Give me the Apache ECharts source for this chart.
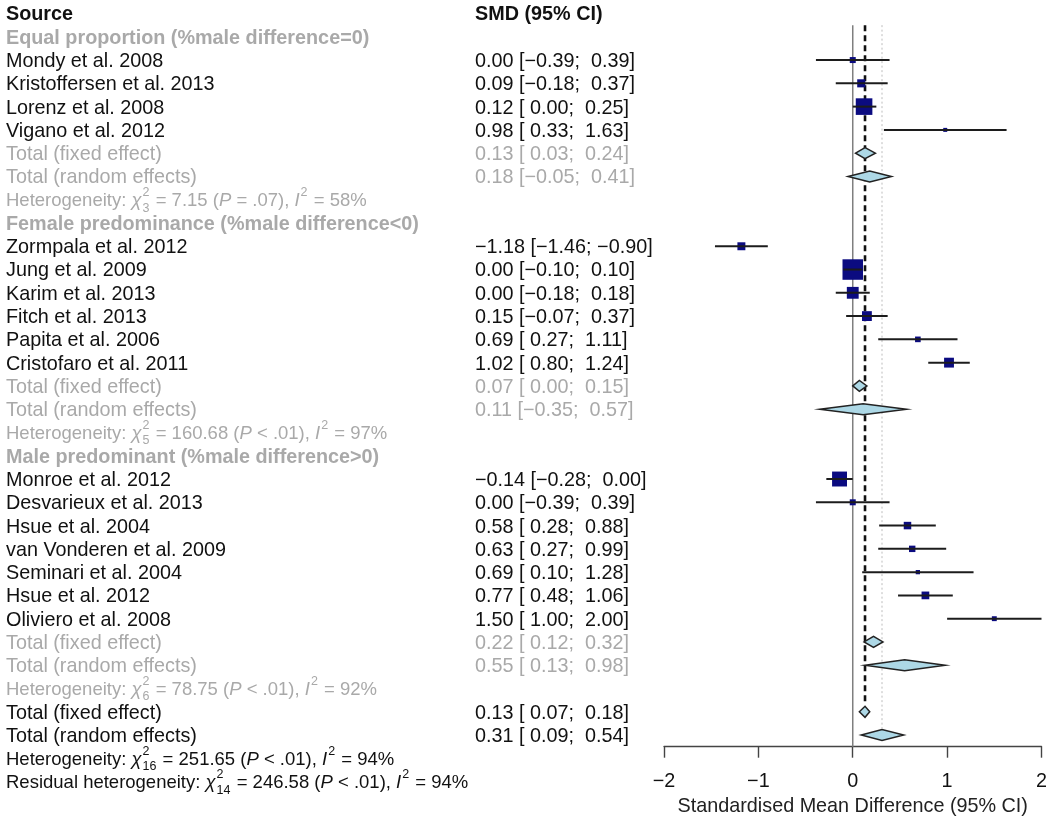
<!DOCTYPE html>
<html><head><meta charset="utf-8">
<script src="https://cdn.jsdelivr.net/npm/echarts@6/dist/echarts.min.js"></script>
<style>html,body{margin:0;padding:0;background:#fff}#c{width:1050px;height:824px}</style>
</head><body><div id="c"></div>
<script>
// ---------------- data ----------------
const headers = ['Source', 'SMD (95% CI)'];
const axisTitle = 'Standardised Mean Difference (95% CI)';
const xTicks = [-2, -1, 0, 1, 2];
const groupTitles = [
  'Equal proportion (%male difference=0)',
  'Female predominance (%male difference<0)',
  'Male predominant (%male difference>0)'
];
const studyNames = [
  'Mondy et al. 2008', 'Kristoffersen et al. 2013', 'Lorenz et al. 2008', 'Vigano et al. 2012',
  'Zormpala et al. 2012', 'Jung et al. 2009', 'Karim et al. 2013', 'Fitch et al. 2013', 'Papita et al. 2006', 'Cristofaro et al. 2011',
  'Monroe et al. 2012', 'Desvarieux et al. 2013', 'Hsue et al. 2004', 'van Vonderen et al. 2009', 'Seminari et al. 2004', 'Hsue et al. 2012', 'Oliviero et al. 2008'
];
const studyGroup = [0,0,0,0, 1,1,1,1,1,1, 2,2,2,2,2,2,2];
const studySMD  = [0.00, 0.09, 0.12, 0.98, -1.18, 0.00, 0.00, 0.15, 0.69, 1.02, -0.14, 0.00, 0.58, 0.63, 0.69, 0.77, 1.50];
const studyLow  = [-0.39, -0.18, 0.00, 0.33, -1.46, -0.10, -0.18, -0.07, 0.27, 0.80, -0.28, -0.39, 0.28, 0.27, 0.10, 0.48, 1.00];
const studyHigh = [0.39, 0.37, 0.25, 1.63, -0.90, 0.10, 0.18, 0.37, 1.11, 1.24, 0.00, 0.39, 0.88, 0.99, 1.28, 1.06, 2.00];
const subFixedSMD  = [0.13, 0.07, 0.22];
const subFixedLow  = [0.03, 0.00, 0.12];
const subFixedHigh = [0.24, 0.15, 0.32];
const subRandomSMD  = [0.18, 0.11, 0.55];
const subRandomLow  = [-0.05, -0.35, 0.13];
const subRandomHigh = [0.41, 0.57, 0.98];
const subHetDf = [3, 5, 6];
const subHetQ  = ['7.15', '160.68', '78.75'];
const subHetP  = ['= .07', '< .01', '< .01'];
const subHetI2 = [58, 97, 92];
const overallFixed  = [0.13, 0.07, 0.18];   // est, low, high
const overallRandom = [0.31, 0.09, 0.54];
const overallHetLabel = ['Heterogeneity: ', 'Residual heterogeneity: '];
const overallHetDf = [16, 14];
const overallHetQ  = ['251.65', '246.58'];
const overallHetP  = ['< .01', '< .01'];
const overallHetI2 = [94, 94];

// ---------------- styling ----------------
const FAMILY = '"Liberation Sans", Arial, Helvetica, sans-serif';
const FS = 19.8, FS_HET = 18.5, FS_SMALL = 12.5;
const BLACK = '#111111', GRAY = '#a9a9a9', NAVY = '#0b0b80';
const LABEL_X = 6, EFFECT_X = 475;
const TEXT_DY = 1.5;
const DIAM_H = 5.5;

function num(v) { return (v < 0 ? '\u2212' : '') + Math.abs(v).toFixed(2); }
function fmtEffect(e, l, h) {
  return num(e) + ' [' + (l < 0 ? '' : ' ') + num(l) + '; ' + (h < 0 ? '' : ' ') + num(h) + ']';
}
function hetSegs(prefix, df, q, p, i2) {
  return [{t: prefix}, {t: '\u03c7', it: true}, {sup: '2', sub: String(df)}, {t: ' = ' + q + ' ('},
          {t: 'P', it: true}, {t: ' ' + p + '), '}, {t: 'I', it: true}, {sup: '2'}, {t: ' = ' + i2 + '%'}];
}

// ---------------- rows ----------------
const rows = [];
rows.push({kind: 'header', row: 0});
let r = 1;
groupTitles.forEach((title, g) => {
  rows.push({kind: 'group', row: r++, label: title});
  studyNames.forEach((name, i) => {
    if (studyGroup[i] === g) rows.push({kind: 'study', row: r++, label: name, est: studySMD[i], lo: studyLow[i], hi: studyHigh[i]});
  });
  rows.push({kind: 'sum', gray: true, row: r++, label: 'Total (fixed effect)', est: subFixedSMD[g], lo: subFixedLow[g], hi: subFixedHigh[g]});
  rows.push({kind: 'sum', gray: true, row: r++, label: 'Total (random effects)', est: subRandomSMD[g], lo: subRandomLow[g], hi: subRandomHigh[g]});
  rows.push({kind: 'het', gray: true, row: r++, segs: hetSegs('Heterogeneity: ', subHetDf[g], subHetQ[g], subHetP[g], subHetI2[g])});
});
const overallFixedRow = r;
rows.push({kind: 'sum', row: r++, label: 'Total (fixed effect)', est: overallFixed[0], lo: overallFixed[1], hi: overallFixed[2]});
const overallRandomRow = r;
rows.push({kind: 'sum', row: r++, label: 'Total (random effects)', est: overallRandom[0], lo: overallRandom[1], hi: overallRandom[2]});
overallHetLabel.forEach((lab, k) => {
  rows.push({kind: 'het', row: r++, segs: hetSegs(lab, overallHetDf[k], overallHetQ[k], overallHetP[k], overallHetI2[k])});
});

const studyRows = rows.filter(d => d.kind === 'study');
const sumRows = rows.filter(d => d.kind === 'sum');

// ---------------- text measuring ----------------
const mctx = document.createElement('canvas').getContext('2d');
function fontStr(o) { return (o.it ? 'italic ' : 'normal ') + (o.bold ? 'bold ' : 'normal ') + (o.size || FS) + 'px ' + FAMILY; }
function tw(text, o) { mctx.font = fontStr(o); return mctx.measureText(text).width; }
function txt(text, x, y, o) {
  return {type: 'text', silent: true, style: {text: text, x: x, y: y + TEXT_DY, fill: o.color, font: fontStr(o),
    textAlign: 'left', textVerticalAlign: 'middle', align: 'left', verticalAlign: 'middle'}};
}

function renderText(params, api) {
  const d = rows[params.dataIndex];
  const y = api.coord([0, d.row])[1];
  const ch = [];
  const color = d.gray ? GRAY : BLACK;
  if (d.kind === 'header') {
    ch.push(txt(headers[0], LABEL_X, y, {bold: true, color: BLACK}));
    ch.push(txt(headers[1], EFFECT_X, y, {bold: true, color: BLACK}));
  } else if (d.kind === 'group') {
    ch.push(txt(d.label, LABEL_X, y, {bold: true, color: GRAY}));
  } else if (d.kind === 'study' || d.kind === 'sum') {
    ch.push(txt(d.label, LABEL_X, y, {color: color}));
    ch.push(txt(fmtEffect(d.est, d.lo, d.hi), EFFECT_X, y, {color: color}));
  } else if (d.kind === 'het') {
    let x = LABEL_X;
    d.segs.forEach(s => {
      if (s.t !== undefined) {
        const o = {it: !!s.it, color: color, size: FS_HET};
        ch.push(txt(s.t, x, y, o));
        x += tw(s.t, o);
      } else {
        const o = {size: FS_SMALL, color: color};
        let w = 0;
        if (s.sup) { ch.push(txt(s.sup, x + 1, y - 8.5, o)); w = Math.max(w, tw(s.sup, o)); }
        if (s.sub) { ch.push(txt(s.sub, x + 1, y + 7, o)); w = Math.max(w, tw(s.sub, o)); }
        x += w + 2;
      }
    });
  }
  return {type: 'group', children: ch};
}

function renderStudy(params, api) {
  const d = studyRows[params.dataIndex];
  const y = api.coord([0, d.row])[1];
  const xe = api.coord([d.est, d.row])[0];
  const xl = api.coord([d.lo, d.row])[0];
  const xh = api.coord([d.hi, d.row])[0];
  const side = 1 + 3.9 / (d.hi - d.lo);   // box area ~ inverse-variance weight
  return {type: 'group', children: [
    {type: 'rect', shape: {x: xe - side / 2, y: y - side / 2, width: side, height: side}, style: {fill: NAVY}},
    {type: 'line', shape: {x1: xl, y1: y, x2: xh, y2: y}, style: {stroke: '#1c1c1c', lineWidth: 2}}
  ]};
}

function renderSum(params, api) {
  const d = sumRows[params.dataIndex];
  const y = api.coord([0, d.row])[1];
  const xe = api.coord([d.est, d.row])[0];
  const xl = api.coord([d.lo, d.row])[0];
  const xh = api.coord([d.hi, d.row])[0];
  return {type: 'polygon', shape: {points: [[xl, y], [xe, y - DIAM_H], [xh, y], [xe, y + DIAM_H]]},
    style: {fill: '#add8e6', stroke: '#222222', lineWidth: 1.5}};
}

const refLines = [
  {x: 0, from: 0.5, to: 31.5, kind: 'null'},
  {x: overallFixed[0], from: 0.5, to: overallFixedRow, kind: 'fixed'},
  {x: overallRandom[0], from: 0.5, to: overallRandomRow, kind: 'random'}
];
function renderRef(params, api) {
  const d = refLines[params.dataIndex];
  const x = api.coord([d.x, 0])[0];
  const y1 = api.coord([d.x, d.from])[1];
  let y2 = api.coord([d.x, d.to])[1];
  let style;
  if (d.kind === 'null') style = {stroke: '#7f7f7f', lineWidth: 1.5};
  else if (d.kind === 'fixed') { y2 -= DIAM_H + 1; style = {stroke: '#111', lineWidth: 2.6, lineDash: [6, 4]}; }
  else { y2 -= DIAM_H + 1; style = {stroke: '#bdbdbd', lineWidth: 1, lineDash: [2, 2.5]}; }
  return {type: 'line', shape: {x1: x, y1: y1, x2: x, y2: y2}, style: style};
}

const chart = echarts.init(document.getElementById('c'), null, {renderer: 'canvas'});
chart.setOption({
  animation: false,
  backgroundColor: '#ffffff',
  grid: {left: 664, right: 8, top: 13.5, bottom: 77.3, containLabel: false},
  xAxis: {
    type: 'value', position: 'bottom', min: xTicks[0], max: xTicks[xTicks.length - 1], interval: 1,
    axisLine: {show: true, onZero: false, lineStyle: {color: '#444', width: 1.4}},
    axisTick: {show: true, inside: false, length: 11, lineStyle: {color: '#444', width: 1.4}},
    axisLabel: {margin: 25, fontSize: FS, fontFamily: FAMILY, color: BLACK,
      formatter: v => (v < 0 ? '\u2212' : '') + Math.abs(v)},
    splitLine: {show: false},
    name: axisTitle, nameLocation: 'middle', nameGap: 48,
    nameTextStyle: {fontSize: FS, fontFamily: FAMILY, color: '#222'}
  },
  yAxis: {type: 'value', inverse: true, min: 0, max: 31.5, show: false},
  series: [
    {type: 'custom', name: 'ref', renderItem: renderRef, clip: false, z: 1,
     data: refLines.map(d => [d.x, d.from])},
    {type: 'custom', name: 'studies', renderItem: renderStudy, clip: false, z: 2,
     data: studyRows.map(d => [d.est, d.row, d.lo, d.hi])},
    {type: 'custom', name: 'summary', renderItem: renderSum, clip: false, z: 3,
     data: sumRows.map(d => [d.est, d.row, d.lo, d.hi])},
    {type: 'custom', name: 'text', renderItem: renderText, clip: false, z: 4,
     data: rows.map(d => [0, d.row])}
  ]
});
</script></body></html>
